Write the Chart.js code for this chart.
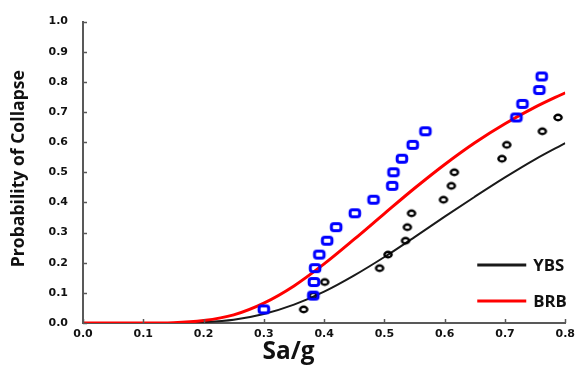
<!DOCTYPE html>
<html>
<head>
<meta charset="utf-8">
<script src="https://cdn.jsdelivr.net/npm/chart.js@4/dist/chart.umd.min.js"></script>
<style>
  html, body { margin: 0; padding: 0; background: #ffffff; }
  #wrap { width: 580px; height: 367px; }
</style>
</head>
<body>
<div id="wrap"><canvas id="fragility"></canvas></div>
<script>
// ---- data ----
// fitted fragility curves, sampled every 0.05 g
var curveX   = [0.00, 0.05, 0.10, 0.15, 0.20, 0.25, 0.30, 0.35, 0.40, 0.45, 0.50, 0.55, 0.60, 0.65, 0.70, 0.75, 0.80];
var ybsCurve = [0.000, 0.000, 0.000, 0.000, 0.003, 0.011, 0.030, 0.061, 0.104, 0.158, 0.219, 0.285, 0.353, 0.419, 0.483, 0.543, 0.597];
var brbCurve = [0.000, 0.000, 0.000, 0.001, 0.008, 0.027, 0.066, 0.123, 0.196, 0.278, 0.363, 0.447, 0.526, 0.598, 0.661, 0.716, 0.764];

// collapse points (Sa/g at collapse, cumulative probability)
var ybsPtsX = [0.366, 0.382, 0.401, 0.492, 0.506, 0.535, 0.538, 0.545, 0.598, 0.611, 0.616, 0.695, 0.703, 0.762, 0.788];
var ybsPtsY = [0.045, 0.091, 0.136, 0.182, 0.227, 0.273, 0.318, 0.364, 0.409, 0.455, 0.500, 0.545, 0.591, 0.636, 0.682];
var brbPtsX = [0.300, 0.382, 0.383, 0.385, 0.392, 0.405, 0.420, 0.451, 0.482, 0.513, 0.515, 0.529, 0.547, 0.568, 0.719, 0.729, 0.757, 0.761];
var brbPtsY = [0.045, 0.091, 0.136, 0.182, 0.227, 0.273, 0.318, 0.364, 0.409, 0.455, 0.500, 0.545, 0.591, 0.636, 0.682, 0.727, 0.773, 0.818];

var xTicks = [0.0, 0.1, 0.2, 0.3, 0.4, 0.5, 0.6, 0.7, 0.8];
var yTicks = [0.0, 0.1, 0.2, 0.3, 0.4, 0.5, 0.6, 0.7, 0.8, 0.9, 1.0];
var seriesNames = ['YBS', 'BRB'];

function pairs(xs, ys) {
    return xs.map(function (x, i) { return { x: x, y: ys[i] }; });
}

// ---- marker images ----
function makeCircle() {
    var c = document.createElement('canvas');
    c.width = 12; c.height = 11;
    var g = c.getContext('2d');
    g.strokeStyle = '#000000';
    g.lineWidth = 2.4;
    g.beginPath();
    g.ellipse(6, 5.5, 3.6, 2.7, 0, 0, Math.PI * 2);
    g.stroke();
    return c;
}
function makeSquare() {
    var c = document.createElement('canvas');
    c.width = 16; c.height = 14;
    var g = c.getContext('2d');
    g.strokeStyle = '#0000ff';
    g.lineWidth = 3;
    g.beginPath();
    g.roundRect(3.2, 3.5, 9.6, 7, 2.5);
    g.stroke();
    return c;
}

var AXIS_COLOR = '#595959';

// bold font whose text comes out at the wanted width
function fitFont(ctx, text, width, family) {
    ctx.font = 'bold 20px ' + family;
    var size = 20 * width / ctx.measureText(text).width;
    return 'bold ' + size.toFixed(1) + 'px ' + family;
}

// inside tick marks, axis titles and the legend box
var extras = {
    id: 'extras',
    afterDraw: function (chart) {
        var ctx = chart.ctx;
        var area = chart.chartArea;
        var xs = chart.scales.x, ys = chart.scales.y;
        ctx.save();

        // small inward tick marks
        ctx.strokeStyle = AXIS_COLOR;
        ctx.lineWidth = 1.5;
        xTicks.forEach(function (v) {
            var px = Math.round(xs.getPixelForValue(v)) + 0.5;
            ctx.beginPath();
            ctx.moveTo(px, area.bottom);
            ctx.lineTo(px, area.bottom - 4);
            ctx.stroke();
        });
        yTicks.forEach(function (v) {
            var py = Math.round(ys.getPixelForValue(v)) + 0.5;
            ctx.beginPath();
            ctx.moveTo(area.left, py);
            ctx.lineTo(area.left + 4, py);
            ctx.stroke();
        });

        // axis titles
        ctx.fillStyle = '#111111';
        ctx.textAlign = 'center';
        ctx.textBaseline = 'middle';
        ctx.font = fitFont(ctx, 'Sa/g', 52, '"Open Sans"');
        ctx.fillText('Sa/g', xs.getPixelForValue(0.341), 352);

        ctx.save();
        ctx.translate(19, ys.getPixelForValue(0.512));
        ctx.rotate(-Math.PI / 2);
        ctx.font = fitFont(ctx, 'Probability of Collapse', 197, '"Open Sans"');
        ctx.fillText('Probability of Collapse', 0, 0);
        ctx.restore();

        // legend
        var ds = chart.data.datasets;
        var lx0 = area.right - 88, lx1 = area.right - 39;
        var rows = [{ d: ds[0], y: area.bottom - 58 }, { d: ds[1], y: area.bottom - 22 }];
        ctx.font = fitFont(ctx, 'YBS', 31, '"Open Sans"');
        ctx.textAlign = 'left';
        rows.forEach(function (r) {
            ctx.strokeStyle = r.d.borderColor;
            ctx.lineWidth = 3;
            ctx.beginPath();
            ctx.moveTo(lx0, r.y);
            ctx.lineTo(lx1, r.y);
            ctx.stroke();
            ctx.fillStyle = '#111111';
            ctx.fillText(r.d.label, lx1 + 7, r.y + 1);
        });
        ctx.restore();
    }
};

var ctx = document.getElementById('fragility').getContext('2d');
var fragilityChart = new Chart(ctx, {
    type: 'scatter',
    data: {
        datasets: [
            {
                label: seriesNames[0],
                type: 'line',
                data: pairs(curveX, ybsCurve),
                borderColor: '#1a1a1a',
                borderWidth: 2,
                pointRadius: 0,
                fill: false,
                cubicInterpolationMode: 'monotone',
                order: 4
            },
            {
                label: seriesNames[1],
                type: 'line',
                data: pairs(curveX, brbCurve),
                borderColor: '#ff0000',
                borderWidth: 3,
                pointRadius: 0,
                fill: false,
                cubicInterpolationMode: 'monotone',
                order: 3
            },
            {
                label: seriesNames[0] + ' points',
                data: pairs(ybsPtsX, ybsPtsY),
                pointStyle: makeCircle(),
                order: 2
            },
            {
                label: seriesNames[1] + ' points',
                data: pairs(brbPtsX, brbPtsY),
                pointStyle: makeSquare(),
                order: 1
            }
        ]
    },
    options: {
        responsive: true,
        maintainAspectRatio: false,
        animation: false,
        layout: { padding: { left: 0, right: 11, top: 14, bottom: 0 } },
        plugins: {
            legend: { display: false },
            tooltip: { enabled: false }
        },
        scales: {
            x: {
                type: 'linear',
                min: 0,
                max: 0.8,
                afterFit: function (s) { s.height = 44; },
                afterBuildTicks: function (s) { s.ticks = xTicks.map(function (v) { return { value: v }; }); },
                grid: { display: false, drawTicks: false },
                border: { color: AXIS_COLOR, width: 2 },
                ticks: {
                    padding: 5,
                    color: '#111111',
                    font: { family: 'DejaVu Sans', size: 11, weight: 'bold' },
                    callback: function (v) { return v.toFixed(1); }
                }
            },
            y: {
                type: 'linear',
                min: 0,
                max: 1,
                afterFit: function (s) { s.width = 83; },
                afterBuildTicks: function (s) { s.ticks = yTicks.map(function (v) { return { value: v }; }); },
                grid: { display: false, drawTicks: false },
                border: { color: AXIS_COLOR, width: 2 },
                ticks: {
                    padding: 15,
                    color: '#111111',
                    font: { family: 'DejaVu Sans', size: 11, weight: 'bold' },
                    callback: function (v) { return v.toFixed(1); }
                }
            }
        }
    },
    plugins: [extras]
});
</script>
</body>
</html>
